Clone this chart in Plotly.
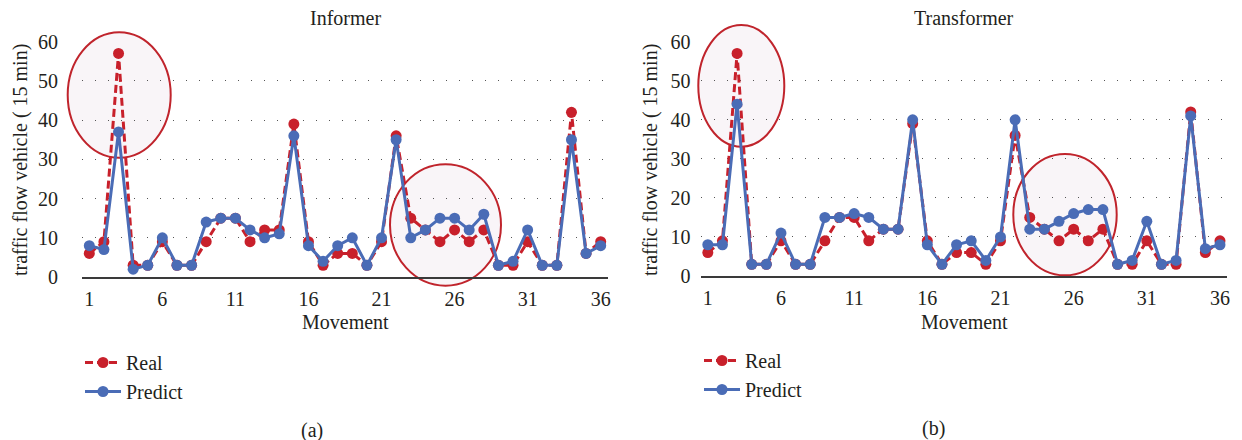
import plotly.graph_objects as go

W, H = 1242, 440

movement = list(range(1, 37))
real = [6, 9, 57, 3, 3, 9, 3, 3, 9, 15, 15, 9, 12, 12, 39, 9, 3, 6, 6, 3,
        9, 36, 15, 12, 9, 12, 9, 12, 3, 3, 9, 3, 3, 42, 6, 9]
informer_pred = [8, 7, 37, 2, 3, 10, 3, 3, 14, 15, 15, 12, 10, 11, 36, 8, 4, 8, 10, 3,
                 10, 35, 10, 12, 15, 15, 12, 16, 3, 4, 12, 3, 3, 35, 6, 8]
transformer_pred = [8, 8, 44, 3, 3, 11, 3, 3, 15, 15, 16, 15, 12, 12, 40, 8, 3, 8, 9, 4,
                    10, 40, 12, 12, 14, 16, 17, 17, 3, 4, 14, 3, 4, 41, 7, 8]
x_ticks = [1, 6, 11, 16, 21, 26, 31, 36]
y_ticks = [0, 10, 20, 30, 40, 50, 60]

RED = "#C8202B"
BLUE = "#4A6CB6"
TXT = "#231F20"
FONT = "Liberation Serif"
FS = 20


def px(x):
    return x / W


def py(y):
    return 1 - y / H


fig = go.Figure()

for i, (pred, leg) in enumerate([(informer_pred, "legend"), (transformer_pred, "legend2")]):
    xa = "x" if i == 0 else "x2"
    ya = "y" if i == 0 else "y2"
    fig.add_trace(go.Scatter(
        x=movement, y=real, name="Real", mode="lines+markers",
        line=dict(color=RED, width=3, dash="8px,4px"),
        marker=dict(color=RED, size=11),
        xaxis=xa, yaxis=ya, legend=leg, cliponaxis=False))
    fig.add_trace(go.Scatter(
        x=movement, y=pred, name="Predict", mode="lines+markers",
        line=dict(color=BLUE, width=3),
        marker=dict(color=BLUE, size=11),
        xaxis=xa, yaxis=ya, legend=leg, cliponaxis=False))

xcommon = dict(range=[0.5, 36.5], tickmode="array", tickvals=x_ticks,
               showgrid=False, zeroline=False, showline=True, linecolor="#3a3a3a",
               linewidth=1.5, ticks="", tickfont=dict(family=FONT, size=FS, color=TXT),
               ticklabelstandoff=3, fixedrange=True, automargin=False)
ycommon = dict(range=[0, 60], tickmode="array", tickvals=y_ticks,
               showgrid=True, gridcolor="#555555", gridwidth=1.2, griddash="1px,12px",
               zeroline=False, showline=False, ticks="",
               tickfont=dict(family=FONT, size=FS, color=TXT),
               fixedrange=True, automargin=False)

fig.update_layout(
    width=W, height=H, autosize=False,
    margin=dict(l=0, r=0, t=0, b=0, pad=0, autoexpand=False),
    paper_bgcolor="white", plot_bgcolor="rgba(0,0,0,0)",
    font=dict(family=FONT, size=FS, color=TXT),
    xaxis=dict(domain=[px(82), px(608)], anchor="y", **xcommon),
    yaxis=dict(domain=[py(277), py(41.7)], anchor="x", ticklabelstandoff=23, **ycommon),
    xaxis2=dict(domain=[px(700.5), px(1227.3)], anchor="y2", **xcommon),
    yaxis2=dict(domain=[py(276), py(41.7)], anchor="x2", ticklabelstandoff=9, **ycommon),
    legend=dict(x=px(80), y=py(343), xanchor="left", yanchor="top", itemwidth=36,
                bgcolor="rgba(0,0,0,0)", font=dict(family=FONT, size=FS, color=TXT),
                tracegroupgap=0),
    legend2=dict(x=px(699), y=py(341), xanchor="left", yanchor="top", itemwidth=36,
                 bgcolor="rgba(0,0,0,0)", font=dict(family=FONT, size=FS, color=TXT),
                 tracegroupgap=0),
    showlegend=True,
)

ellipses = [(67.7, 32.3, 170.7, 157.7), (390, 164.3, 501, 285.7),
            (698.3, 25, 784.3, 146.7), (1013.3, 154, 1116.7, 275.3)]
for (x0, y0, x1, y1) in ellipses:
    fig.add_shape(type="circle", xref="paper", yref="paper",
                  x0=px(x0), x1=px(x1), y0=py(y1), y1=py(y0),
                  line=dict(color="#C0242C", width=2), fillcolor="#F9F5F8",
                  layer="below")

annots = [
    ("Informer", 345, 18, 0), ("Transformer", 964, 18, 0),
    ("Movement", 345, 322, 0), ("Movement", 964, 322, 0),
    ("(a)", 312, 430, 0), ("(b)", 933, 428, 0),
    ("traffic flow vehicle ( 15 min)", 20, 160, -90),
    ("traffic flow vehicle ( 15 min)", 650, 160, -90),
]
for text, x, y, ang in annots:
    fig.add_annotation(text=text, x=px(x), y=py(y), xref="paper", yref="paper",
                       xanchor="center", yanchor="middle", showarrow=False,
                       textangle=ang, font=dict(family=FONT, size=FS, color=TXT))

fig.write_html("out.html")
